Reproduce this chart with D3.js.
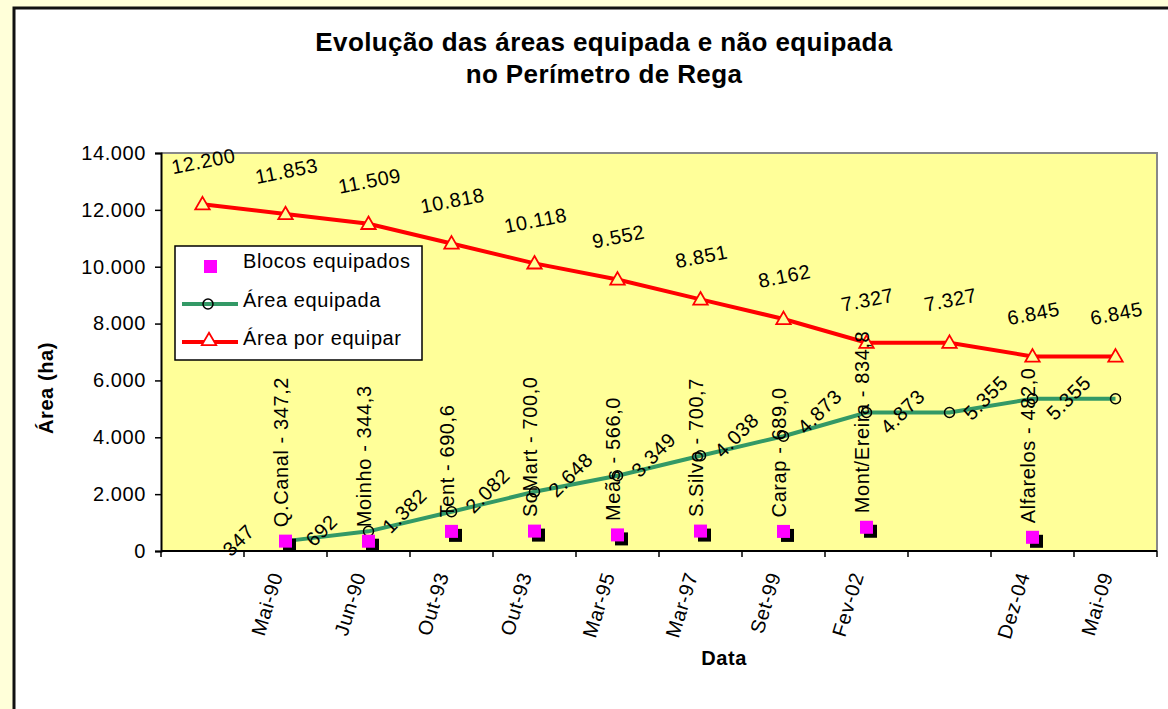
<!DOCTYPE html>
<html>
<head>
  <meta charset="utf-8">
  <title>Evolução das áreas</title>
  <script src="https://cdn.jsdelivr.net/npm/d3@7"></script>
  <style>
    body { margin: 0; background: #FFFFD9; font-family: Arial, "Liberation Sans", sans-serif; }
    text { font-family: Arial, "Liberation Sans", sans-serif; }
  </style>
</head>
<body>
<div id="chart"></div>
<script>
var width = 1168;
var height = 709;

// ----- Data -----
var categories = ["", "Mai-90", "Jun-90", "Out-93", "Out-93", "Mar-95", "Mar-97", "Set-99", "Fev-02", "", "Dez-04", "Mai-09"];
var areaPorEquipar = [12200, 11853, 11509, 10818, 10118, 9552, 8851, 8162, 7327, 7327, 6845, 6845];
var areaEquipada = [null, 347, 692, 1382, 2082, 2648, 3349, 4038, 4873, 4873, 5355, 5355];
var blocos = [null, 347.2, 344.3, 690.6, 700.0, 566.0, 700.7, 689.0, 834.8, null, 482.0, null];
var blocosNomes = [null, "Q.Canal", "Moinho", "Tent", "SoMart", "Meãs", "S.Silvo", "Carap", "Mont/Ereira", null, "Alfarelos", null];
var yTicks = [0, 2000, 4000, 6000, 8000, 10000, 12000, 14000];

var pt = d3.formatLocale({decimal: ",", thousands: ".", grouping: [3], currency: ["", " €"]});
var fmtInt = pt.format(",d");
var fmtDec = pt.format(",.1f");

var plot = {left: 161, right: 1157, top: 153, bottom: 551};
var green = '#339966', red = '#FF0000', magenta = '#FF00FF';
var fs = 20, ls = 0.6;

// ----- Main -----
var svg = d3.select("#chart").append("svg")
  .attr("width", width).attr("height", height);

// chart area
svg.append('rect').attr('x', 0).attr('y', 0).attr('width', width).attr('height', height).attr('fill', '#FFFFD9');
svg.append('rect').attr('x', 14).attr('y', 8).attr('width', width).attr('height', height)
  .attr('fill', 'white').attr('stroke', '#111').attr('stroke-width', 3);

var idx = d3.range(categories.length);
var x = d3.scaleBand().domain(idx).range([plot.left, plot.right]);
var y = d3.scaleLinear().domain([0, 14000]).range([plot.bottom, plot.top]);
var cx = function(i) { return x(i) + x.bandwidth() / 2; };

// plot background
svg.append('rect').attr('x', plot.left).attr('y', plot.top)
  .attr('width', plot.right - plot.left).attr('height', plot.bottom - plot.top)
  .attr('fill', '#FFFF99');
svg.append('path')
  .attr('d', 'M' + plot.left + ',' + plot.top + 'H' + plot.right + 'V' + plot.bottom)
  .attr('fill', 'none').attr('stroke', '#888').attr('stroke-width', 2);

// title
var title = svg.append('text').attr('text-anchor', 'middle')
  .attr('font-weight', 'bold').attr('font-size', 26).attr('letter-spacing', 0.4);
title.append('tspan').attr('x', 604).attr('y', 51).text('Evolução das áreas equipada e não equipada');
title.append('tspan').attr('x', 604).attr('y', 83).text('no Perímetro de Rega');

// y axis
var yAxis = svg.append('g').attr('transform', 'translate(' + plot.left + ',0)')
  .call(d3.axisLeft(y).tickValues(yTicks).tickFormat(fmtInt).tickSize(6).tickPadding(9));
yAxis.select('.domain').attr('stroke', '#000').attr('stroke-width', 2);
yAxis.selectAll('.tick line').attr('stroke', '#000').attr('stroke-width', 1.5);
yAxis.selectAll('.tick text').attr('font-size', fs).attr('letter-spacing', ls).attr('fill', '#000');

// x axis (ticks between categories)
var xAxis = svg.append('g').attr('transform', 'translate(0,' + plot.bottom + ')');
xAxis.append('line').attr('x1', plot.left).attr('x2', plot.right)
  .attr('stroke', '#000').attr('stroke-width', 2);
xAxis.selectAll('line.tk').data(d3.range(categories.length + 1)).enter().append('line')
  .attr('class', 'tk')
  .attr('x1', function(d) { return plot.left + d * x.step(); })
  .attr('x2', function(d) { return plot.left + d * x.step(); })
  .attr('y1', 0).attr('y2', 6).attr('stroke', '#000').attr('stroke-width', 1.5);
xAxis.selectAll('text').data(idx).enter().append('text')
  .attr('transform', function(i) { return 'translate(' + (cx(i) - 9) + ',22) rotate(-73)'; })
  .attr('text-anchor', 'end').attr('dy', '0.35em')
  .attr('font-size', fs).attr('letter-spacing', ls)
  .text(function(i) { return categories[i]; });

// axis titles
svg.append('text').attr('transform', 'translate(53,388) rotate(-90)')
  .attr('text-anchor', 'middle').attr('font-weight', 'bold')
  .attr('font-size', fs).attr('letter-spacing', ls).text('Área (ha)');
svg.append('text').attr('x', 724).attr('y', 665)
  .attr('text-anchor', 'middle').attr('font-weight', 'bold')
  .attr('font-size', fs).attr('letter-spacing', ls).text('Data');

// Área por equipar
var line = d3.line()
  .x(function(d) { return cx(d.i); })
  .y(function(d) { return y(d.v); });
var redData = areaPorEquipar.map(function(v, i) { return {i: i, v: v}; });
var greenData = areaEquipada.map(function(v, i) { return {i: i, v: v}; }).filter(function(d) { return d.v != null; });
var blocoData = blocos.map(function(v, i) { return {i: i, v: v, n: blocosNomes[i]}; }).filter(function(d) { return d.v != null; });

svg.append('path').datum(redData).attr('d', line)
  .attr('fill', 'none').attr('stroke', red).attr('stroke-width', 4);
var tri = d3.symbol().type(d3.symbolTriangle).size(90);
svg.selectAll('path.tri').data(redData).enter().append('path')
  .attr('class', 'tri').attr('d', tri)
  .attr('transform', function(d) { return 'translate(' + cx(d.i) + ',' + (y(d.v) + 1) + ')'; })
  .attr('fill', '#FFFF99').attr('stroke', red).attr('stroke-width', 1.8);
svg.selectAll('text.rl').data(redData).enter().append('text')
  .attr('class', 'rl')
  .attr('transform', function(d) { return 'translate(' + (cx(d.i) + 1) + ',' + (y(d.v) - 43) + ') rotate(-11)'; })
  .attr('text-anchor', 'middle').attr('dy', '0.35em')
  .attr('font-size', fs).attr('letter-spacing', ls)
  .text(function(d) { return fmtInt(d.v); });

// Área equipada
svg.append('path').datum(greenData).attr('d', line)
  .attr('fill', 'none').attr('stroke', green).attr('stroke-width', 4);
svg.selectAll('circle.gc').data(greenData).enter().append('circle')
  .attr('class', 'gc')
  .attr('cx', function(d) { return cx(d.i); })
  .attr('cy', function(d) { return y(d.v); })
  .attr('r', 5).attr('fill', 'none').attr('stroke', '#000').attr('stroke-width', 1.5);
svg.selectAll('text.gl').data(greenData).enter().append('text')
  .attr('class', 'gl')
  .attr('transform', function(d) { return 'translate(' + (cx(d.i) - 47) + ',' + (y(d.v) - 1) + ') rotate(-45)'; })
  .attr('text-anchor', 'middle').attr('dy', '0.35em')
  .attr('font-size', fs).attr('letter-spacing', ls)
  .text(function(d) { return fmtInt(d.v); });

// Blocos equipados
var sq = 13;
svg.selectAll('rect.sh').data(blocoData).enter().append('rect')
  .attr('class', 'sh')
  .attr('x', function(d) { return cx(d.i) - sq / 2 + 4; })
  .attr('y', function(d) { return y(d.v) - sq / 2 + 4; })
  .attr('width', sq).attr('height', sq).attr('fill', '#000');
svg.selectAll('rect.bq').data(blocoData).enter().append('rect')
  .attr('class', 'bq')
  .attr('x', function(d) { return cx(d.i) - sq / 2; })
  .attr('y', function(d) { return y(d.v) - sq / 2; })
  .attr('width', sq).attr('height', sq).attr('fill', magenta);
svg.selectAll('text.bl').data(blocoData).enter().append('text')
  .attr('class', 'bl')
  .attr('transform', function(d) { return 'translate(' + (cx(d.i) - 5) + ',' + (y(d.v) - 14) + ') rotate(-90)'; })
  .attr('text-anchor', 'start').attr('dy', '0.35em')
  .attr('font-size', fs).attr('letter-spacing', ls)
  .text(function(d) { return d.n + ' - ' + fmtDec(d.v); });

// legend
var lg = svg.append('g');
lg.append('rect').attr('x', 175).attr('y', 246).attr('width', 247).attr('height', 114)
  .attr('fill', 'white').attr('stroke', '#000').attr('stroke-width', 1.5);
lg.append('rect').attr('x', 204).attr('y', 260).attr('width', sq).attr('height', sq).attr('fill', magenta);
lg.append('line').attr('x1', 182).attr('x2', 238).attr('y1', 304).attr('y2', 304)
  .attr('stroke', green).attr('stroke-width', 4);
lg.append('circle').attr('cx', 208).attr('cy', 304).attr('r', 5)
  .attr('fill', 'none').attr('stroke', '#000').attr('stroke-width', 1.5);
lg.append('line').attr('x1', 182).attr('x2', 238).attr('y1', 342).attr('y2', 342)
  .attr('stroke', red).attr('stroke-width', 4);
lg.append('path').attr('d', tri).attr('transform', 'translate(209,341)')
  .attr('fill', 'white').attr('stroke', red).attr('stroke-width', 1.8);
var lgLabels = ['Blocos equipados', 'Área equipada', 'Área por equipar'];
var lgY = [268, 307, 345];
lg.selectAll('text').data(lgLabels).enter().append('text')
  .attr('x', 243).attr('y', function(d, i) { return lgY[i]; })
  .attr('font-size', fs).attr('letter-spacing', ls)
  .text(function(d) { return d; });
</script>
</body>
</html>
